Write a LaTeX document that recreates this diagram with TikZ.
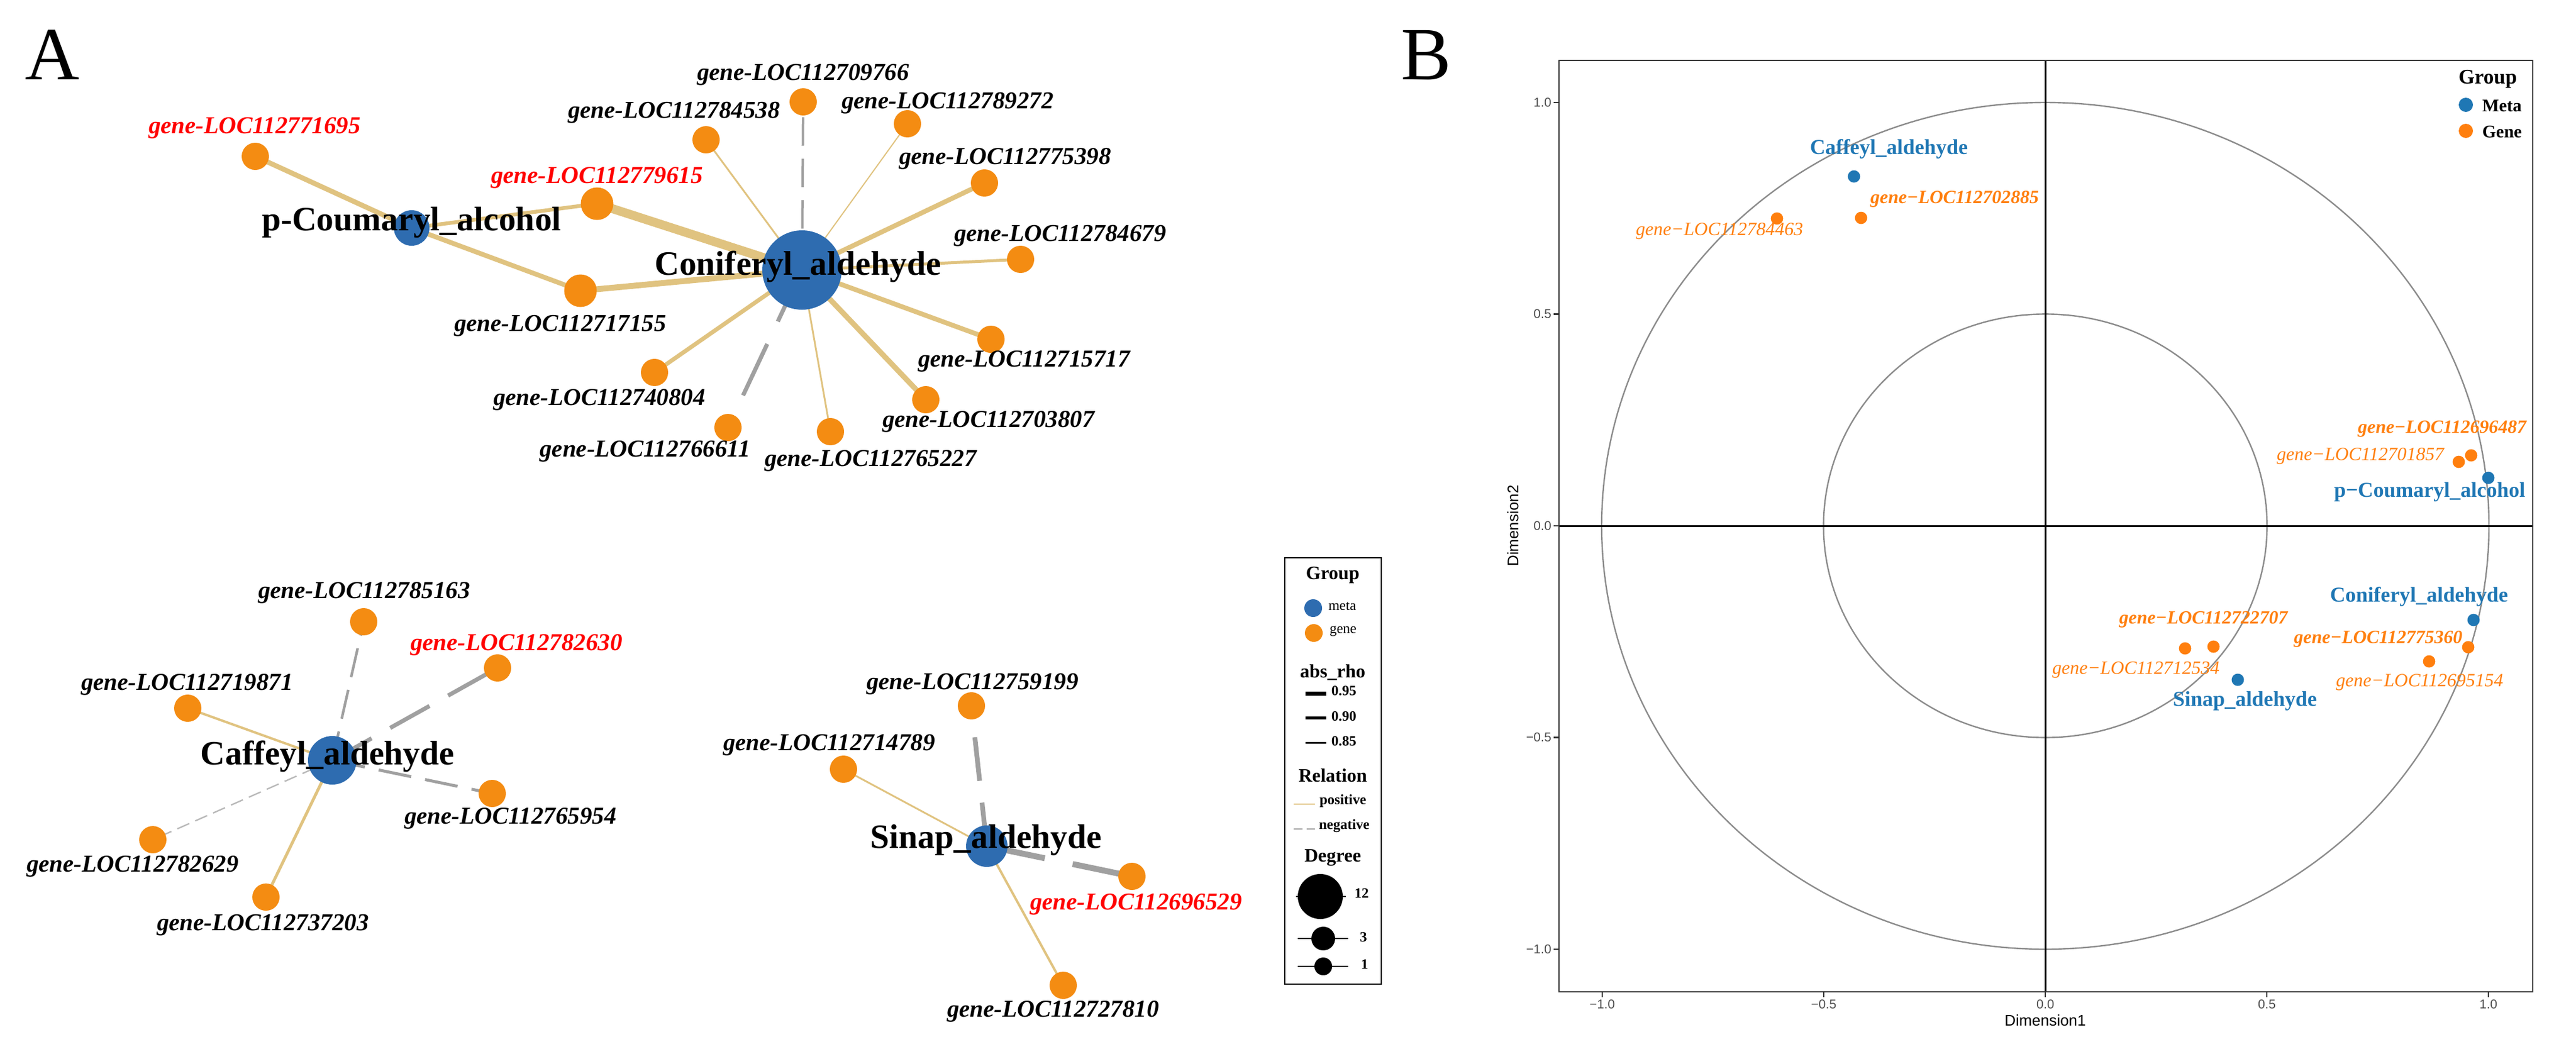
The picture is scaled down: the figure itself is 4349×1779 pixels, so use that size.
\documentclass[tikz,border=0pt]{standalone}
\usepackage{fontspec}
\setmainfont{Liberation Serif}
\setsansfont{Liberation Sans}
\usetikzlibrary{backgrounds}
\definecolor{metaA}{RGB}{46,108,176}
\definecolor{geneA}{RGB}{244,140,18}
\definecolor{posE}{RGB}{224,195,128}
\definecolor{negE}{RGB}{160,160,160}
\definecolor{negL}{RGB}{185,185,185}
\definecolor{metaB}{RGB}{31,119,180}
\definecolor{geneB}{RGB}{255,127,14}
\definecolor{tickc}{RGB}{77,77,77}
\definecolor{framec}{RGB}{51,51,51}
\definecolor{circc}{RGB}{140,140,140}
\begin{document}
\begin{tikzpicture}[x=0.25pt,y=-0.25pt,
  metanode/.style={circle,fill=metaA,inner sep=0pt,minimum size=#1},
  genenode/.style={circle,fill=geneA,inner sep=0pt,minimum size=#1},
  genenode/.default=11.5pt,
  glab/.style={inner sep=0pt,font=\fontsize{10.25}{12}\selectfont\bfseries\itshape},
  rlab/.style={glab,text=red},
  mlab/.style={inner sep=0pt,font=\fontsize{14.4}{17}\selectfont\bfseries},
  posedge/.style={draw=posE,line width=#1},
  negedge/.style args={#1/#2/#3}{draw=negE,line width=#1,dash pattern=on #2 off #3},
  lhead/.style={inner sep=0pt,font=\fontsize{8}{9}\selectfont\bfseries},
  litem/.style={inner sep=0pt,anchor=west,font=\fontsize{6}{7}\selectfont},
  litemb/.style={litem,font=\fontsize{6}{7}\selectfont\bfseries},
  bpt/.style={circle,inner sep=0pt,minimum size=5.2pt},
  bmeta/.style={inner sep=0pt,text=metaB,font=\fontsize{8.95}{10}\selectfont\bfseries},
  bgeneb/.style={inner sep=0pt,text=geneB,font=\fontsize{7.9}{9}\selectfont\bfseries\itshape},
  bgenei/.style={inner sep=0pt,text=geneB,font=\fontsize{7.9}{9}\selectfont\itshape},
  ticklab/.style={inner sep=0pt,text=tickc,font=\sffamily\fontsize{5.4}{6}\selectfont},
  axtitle/.style={inner sep=0pt,font=\sffamily\fontsize{6.5}{7.5}\selectfont},
  panellab/.style={inner sep=0pt,anchor=base,font=\fontsize{31.75}{34}\selectfont}
]
\useasboundingbox (0,0) rectangle (4349,1779);

% ---------------- Panel A ----------------
\node[panellab] (lblA) at (88,134) {A};

% metabolite nodes
\node[metanode=15pt] (pC) at (695,385) {};
\node[metanode=33.5pt] (CA) at (1354,456) {};
\node[metanode=20.5pt] (CaA) at (561,1284) {};
\node[metanode=17.5pt] (SA) at (1666,1429) {};

% gene nodes
\node[genenode] (g771695) at (431,264) {};
\node[genenode=13.75pt] (g779615) at (1008,344) {};
\node[genenode=13.75pt] (g717155) at (980,491) {};
\node[genenode] (g784538) at (1192,236) {};
\node[genenode] (g709766) at (1356,172) {};
\node[genenode] (g789272) at (1532,209) {};
\node[genenode] (g775398) at (1662,309) {};
\node[genenode] (g784679) at (1723,438) {};
\node[genenode] (g715717) at (1673,573) {};
\node[genenode] (g703807) at (1563,675) {};
\node[genenode] (g765227) at (1402,729) {};
\node[genenode] (g766611) at (1229,722) {};
\node[genenode] (g740804) at (1105,629) {};
\node[genenode] (g785163) at (614,1050) {};
\node[genenode] (g782630) at (840,1128) {};
\node[genenode] (g719871) at (317,1196) {};
\node[genenode] (g765954) at (831,1340) {};
\node[genenode] (g782629) at (258,1418) {};
\node[genenode] (g737203) at (449,1515) {};
\node[genenode] (g759199) at (1640,1192) {};
\node[genenode] (g714789) at (1424,1299) {};
\node[genenode] (g696529) at (1911,1480) {};
\node[genenode] (g727810) at (1795,1664) {};

% edges
\begin{scope}[on background layer]
\draw[posedge=2.1pt] (pC.center) -- (g771695.center);
\draw[posedge=1.6pt] (pC.center) -- (g779615.center);
\draw[posedge=2pt] (pC.center) -- (g717155.center);
\draw[posedge=3.75pt] (CA.center) -- (g779615.center);
\draw[posedge=2.5pt] (CA.center) -- (g717155.center);
\draw[posedge=0.75pt] (CA.center) -- (g784538.center);
\draw[negedge=1pt/12pt/5.5pt] (CA.center) -- (g709766.center);
\draw[posedge=0.5pt] (CA.center) -- (g789272.center);
\draw[posedge=2pt] (CA.center) -- (g775398.center);
\draw[posedge=1.25pt] (CA.center) -- (g784679.center);
\draw[posedge=2pt] (CA.center) -- (g715717.center);
\draw[posedge=2.25pt] (CA.center) -- (g703807.center);
\draw[posedge=0.75pt] (CA.center) -- (g765227.center);
\draw[negedge=1.75pt/24pt/10.5pt] (CA.center) -- (g766611.center);
\draw[posedge=1.75pt] (CA.center) -- (g740804.center);
\draw[negedge=1.1pt/12.5pt/5.5pt] (CaA.center) -- (g785163.center);
\draw[negedge=1.75pt/19pt/9pt] (CaA.center) -- (g782630.center);
\draw[posedge=1pt] (CaA.center) -- (g719871.center);
\draw[negedge=1.25pt/14pt/6pt] (CaA.center) -- (g765954.center);
\draw[negedge=0.6pt/5.5pt/2.75pt,draw=negL] (CaA.center) -- (g782629.center);
\draw[posedge=1.25pt] (CaA.center) -- (g737203.center);
\draw[negedge=2pt/18.5pt/9.25pt] (SA.center) -- (g759199.center);
\draw[posedge=0.75pt] (SA.center) -- (g714789.center);
\draw[negedge=2.5pt/25pt/12pt] (SA.center) -- (g696529.center);
\draw[posedge=1pt] (SA.center) -- (g727810.center);
\end{scope}

% metabolite labels
\node[mlab] (pCl) at (695,376) {p-Coumaryl\_alcohol};
\node[mlab] (CAl) at (1347,450) {Coniferyl\_aldehyde};
\node[mlab] (CaAl) at (553,1277) {Caffeyl\_aldehyde};
\node[mlab] (SAl) at (1665,1419) {Sinap\_aldehyde};

% gene labels
\node[rlab] (l771695) at (430,216) {gene-LOC112771695};
\node[rlab] (l779615) at (1008,300) {gene-LOC112779615};
\node[glab] (l717155) at (946,550) {gene-LOC112717155};
\node[glab] (l784538) at (1138,190) {gene-LOC112784538};
\node[glab] (l709766) at (1356,126) {gene-LOC112709766};
\node[glab] (l789272) at (1600,174) {gene-LOC112789272};
\node[glab] (l775398) at (1697,268) {gene-LOC112775398};
\node[glab] (l784679) at (1790,398) {gene-LOC112784679};
\node[glab] (l715717) at (1729,610) {gene-LOC112715717};
\node[glab] (l703807) at (1669,712) {gene-LOC112703807};
\node[glab] (l765227) at (1470,778) {gene-LOC112765227};
\node[glab] (l766611) at (1089,762) {gene-LOC112766611};
\node[glab] (l740804) at (1012,675) {gene-LOC112740804};
\node[glab] (l785163) at (615,1001) {gene-LOC112785163};
\node[rlab] (l782630) at (872,1089) {gene-LOC112782630};
\node[glab] (l719871) at (316,1156) {gene-LOC112719871};
\node[glab] (l765954) at (862,1382) {gene-LOC112765954};
\node[glab] (l782629) at (224,1463) {gene-LOC112782629};
\node[glab] (l737203) at (444,1562) {gene-LOC112737203};
\node[glab] (l759199) at (1642,1155) {gene-LOC112759199};
\node[glab] (l714789) at (1400,1258) {gene-LOC112714789};
\node[rlab] (l696529) at (1918,1527) {gene-LOC112696529};
\node[glab] (l727810) at (1778,1708) {gene-LOC112727810};

% legend of panel A
\draw[black,line width=0.45pt] (2169,942) rectangle (2332,1662);
\node[lhead] (lgGroup) at (2250,971) {Group};
\node[circle,fill=metaA,inner sep=0pt,minimum size=7.5pt] (lgMeta) at (2217,1027) {};
\node[litem] (lgMetaT) at (2242,1024) {meta};
\node[circle,fill=geneA,inner sep=0pt,minimum size=7.5pt] (lgGene) at (2218,1069) {};
\node[litem] (lgGeneT) at (2244,1066) {gene};
\node[lhead] (lgRho) at (2250,1136) {abs\_rho};
\draw[line width=1.75pt] (2204,1171) -- (2239,1171);
\node[litemb] (lg95) at (2247,1167) {0.95};
\draw[line width=1.25pt] (2204,1212) -- (2239,1212);
\node[litemb] (lg90) at (2247,1210) {0.90};
\draw[line width=0.75pt] (2204,1254) -- (2239,1254);
\node[litemb] (lg85) at (2247,1252) {0.85};
\node[lhead] (lgRel) at (2250,1310) {Relation};
\draw[draw=posE,line width=0.5pt] (2184,1358) -- (2220,1358);
\node[litemb] (lgPos) at (2227,1353) {positive};
\draw[draw=negE,line width=0.5pt,dash pattern=on 3.75pt off 1.75pt] (2184,1400) -- (2220,1400);
\node[litemb] (lgNeg) at (2226,1395) {negative};
\node[lhead] (lgDeg) at (2250,1449) {Degree};
\draw[line width=0.35pt] (2188,1514) -- (2272,1514);
\node[circle,fill=black,inner sep=0pt,minimum size=19pt] (lgD12) at (2229,1514) {};
\node[litemb] (lgD12T) at (2286,1509) {12};
\draw[line width=0.35pt] (2191,1585) -- (2276,1585);
\node[circle,fill=black,inner sep=0pt,minimum size=10pt] (lgD3) at (2234,1585) {};
\node[litemb] (lgD3T) at (2295,1583) {3};
\draw[line width=0.35pt] (2191,1632) -- (2276,1632);
\node[circle,fill=black,inner sep=0pt,minimum size=7.5pt] (lgD1) at (2234,1632) {};
\node[litemb] (lgD1T) at (2297,1629) {1};

% ---------------- Panel B ----------------
\node[panellab] (lblB) at (2408,134) {B};

% circles
\draw[circc,line width=0.6pt] (3453,888) ellipse [x radius=187.25pt, y radius=178.75pt];
\draw[circc,line width=0.6pt] (3453,888) ellipse [x radius=93.6pt, y radius=89.4pt];
% axes through origin
\draw[black,line width=0.75pt] (2632,888) -- (4276,888);
\draw[black,line width=0.75pt] (3453,102) -- (3453,1675);
% frame
\draw[framec,line width=0.6pt] (2632,102) rectangle (4276,1675);
% ticks
\foreach \yy/\tl in {173/1.0,530.5/0.5,888/0.0,1245.5/−0.5,1603/−1.0}{
  \draw[framec,line width=0.55pt] (2623,\yy) -- (2632,\yy);
  \node[ticklab,anchor=east] at (2620,\yy) {\tl};
}
\foreach \xx/\tl in {2705/−1.0,3079/−0.5,3453/0.0,3827/0.5,4201/1.0}{
  \draw[framec,line width=0.55pt] (\xx,1675) -- (\xx,1684);
  \node[ticklab] at (\xx,1696) {\tl};
}
\node[axtitle] (xtitle) at (3453,1723) {Dimension1};
\node[axtitle,rotate=90] (ytitle) at (2554,888) {Dimension2};

% points
\node[bpt,fill=metaB] (bCaA) at (3130,298) {};
\node[bpt,fill=metaB] (bpC) at (4201,807) {};
\node[bpt,fill=metaB] (bCA) at (4176,1047) {};
\node[bpt,fill=metaB] (bSA) at (3778,1148) {};
\node[bpt,fill=geneB] (b784463) at (3000,369) {};
\node[bpt,fill=geneB] (b702885) at (3142,368) {};
\node[bpt,fill=geneB] (b696487) at (4172,769) {};
\node[bpt,fill=geneB] (b701857) at (4151,780) {};
\node[bpt,fill=geneB] (b775360) at (4167,1093) {};
\node[bpt,fill=geneB] (b695154) at (4101,1117) {};
\node[bpt,fill=geneB] (b722707) at (3737,1092) {};
\node[bpt,fill=geneB] (b712534) at (3689,1095) {};

% labels
\node[bmeta] (tCaA) at (3189,252) {Caffeyl\_aldehyde};
\node[bmeta] (tpC) at (4102,831) {p−Coumaryl\_alcohol};
\node[bmeta] (tCA) at (4084,1008) {Coniferyl\_aldehyde};
\node[bmeta] (tSA) at (3790,1184) {Sinap\_aldehyde};
\node[bgenei] (t784463) at (2903,390) {gene−LOC112784463};
\node[bgeneb] (t702885) at (3300,336) {gene−LOC112702885};
\node[bgeneb] (t696487) at (4123,724) {gene−LOC112696487};
\node[bgenei] (t701857) at (3985,770) {gene−LOC112701857};
\node[bgeneb] (t775360) at (4015,1079) {gene−LOC112775360};
\node[bgenei] (t695154) at (4085,1152) {gene−LOC112695154};
\node[bgeneb] (t722707) at (3720,1046) {gene−LOC112722707};
\node[bgenei] (t712534) at (3606,1131) {gene−LOC112712534};

% legend of panel B
\node[inner sep=0pt,font=\fontsize{8.75}{10}\selectfont\bfseries] (bgTitle) at (4200,134) {Group};
\node[circle,fill=metaB,inner sep=0pt,minimum size=6pt] (bgMeta) at (4163,177) {};
\node[inner sep=0pt,anchor=west,font=\fontsize{7.5}{9}\selectfont\bfseries] (bgMetaT) at (4190,179) {Meta};
\node[circle,fill=geneB,inner sep=0pt,minimum size=6pt] (bgGene) at (4163,221) {};
\node[inner sep=0pt,anchor=west,font=\fontsize{7.5}{9}\selectfont\bfseries] (bgGeneT) at (4190,223) {Gene};
\end{tikzpicture}
\end{document}
